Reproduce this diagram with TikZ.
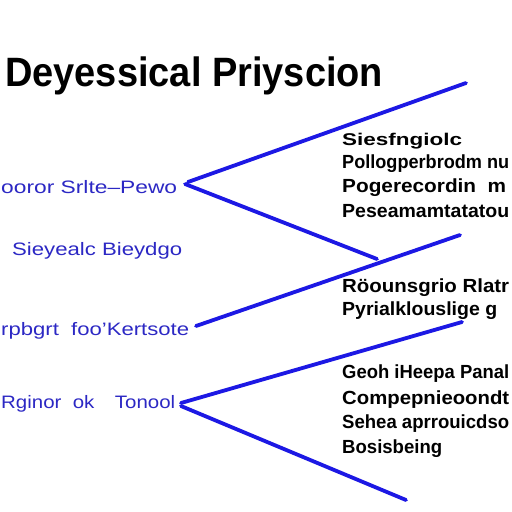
\documentclass[tikz,border=0pt]{standalone}
\usepackage{fontspec}
\setmainfont{Liberation Sans}
\definecolor{lineblue}{RGB}{28,24,228}
\definecolor{labelblue}{RGB}{44,40,196}
\newcommand{\fitw}[2]{\resizebox{#1}{\height}{#2}}
\begin{document}
\begin{tikzpicture}[x=1pt,y=-1pt,
  conn/.style={lineblue, line width=3.8pt, line cap=round},
  lbl/.style={text=labelblue, font=\fontsize{18}{18}\selectfont, inner sep=0pt, anchor=base west},
  desc/.style={text=black, font=\bfseries\fontsize{19}{19}\selectfont, inner sep=0pt, anchor=base west},
  ttl/.style={text=black, font=\bfseries\fontsize{41}{41}\selectfont, inner sep=0pt, anchor=base west}]
\useasboundingbox (0,0) rectangle (512,512);
\fill[white] (0,0) rectangle (512,512);
\clip (0,0) rectangle (512,512);

% title
\node[ttl] (title) at (5,86) {\fitw{378pt}{Deyessical Priyscion}};

% left labels
\node[lbl] (l1) at (1,193) {\fitw{176pt}{ooror Srlte--Pewo}};
\node[lbl] (l2) at (12,255) {\fitw{170pt}{Sieyealc Bieydgo}};
\node[lbl] (l3) at (1,335) {\fitw{188pt}{rpbgrt\ \ foo'Kertsote}};
\node[lbl] (l4) at (1,408) {\fitw{174pt}{Rginor\ \ ok\quad Tonool}};

% right descriptions
\node[desc, font=\bfseries\fontsize{17}{17}\selectfont] (d11) at (342,145) {\fitw{120pt}{Siesfngiolc}};
\node[desc] (d12) at (342,168) {\fitw{167pt}{Pollogperbrodm nu}};
\node[desc] (d13) at (342,192) {\fitw{164pt}{Pogerecordin\ \ m}};
\node[desc] (d14) at (342,217) {\fitw{167pt}{Peseamamtatatou}};
\node[desc] (d21) at (342,292) {\fitw{167pt}{Röounsgrio Rlatr}};
\node[desc] (d22) at (342,315) {\fitw{155pt}{Pyrialklouslige g}};
\node[desc] (d31) at (342,378) {\fitw{167pt}{Geoh iHeepa Panal}};
\node[desc] (d32) at (342,404) {\fitw{167pt}{Compepnieoondt}};
\node[desc] (d33) at (342,428) {\fitw{167pt}{Sehea aprrouicdso}};
\node[desc] (d34) at (342,453) {\fitw{100pt}{Bosisbeing}};

% connector end points
\coordinate (s1) at (188,182);
\coordinate (s1b) at (185,184);
\coordinate (e1) at (466,83);
\coordinate (e2) at (377,259);
\coordinate (s3) at (196,326);
\coordinate (e3) at (460,235);
\coordinate (s4) at (181,403);
\coordinate (e4) at (462,322);
\coordinate (s5) at (181,406);
\coordinate (e5) at (406,500);

\draw[conn] (s1) -- (e1);
\draw[conn] (s1b) -- (e2);
\draw[conn] (s3) -- (e3);
\draw[conn] (s4) -- (e4);
\draw[conn] (s5) -- (e5);
\end{tikzpicture}
\end{document}
